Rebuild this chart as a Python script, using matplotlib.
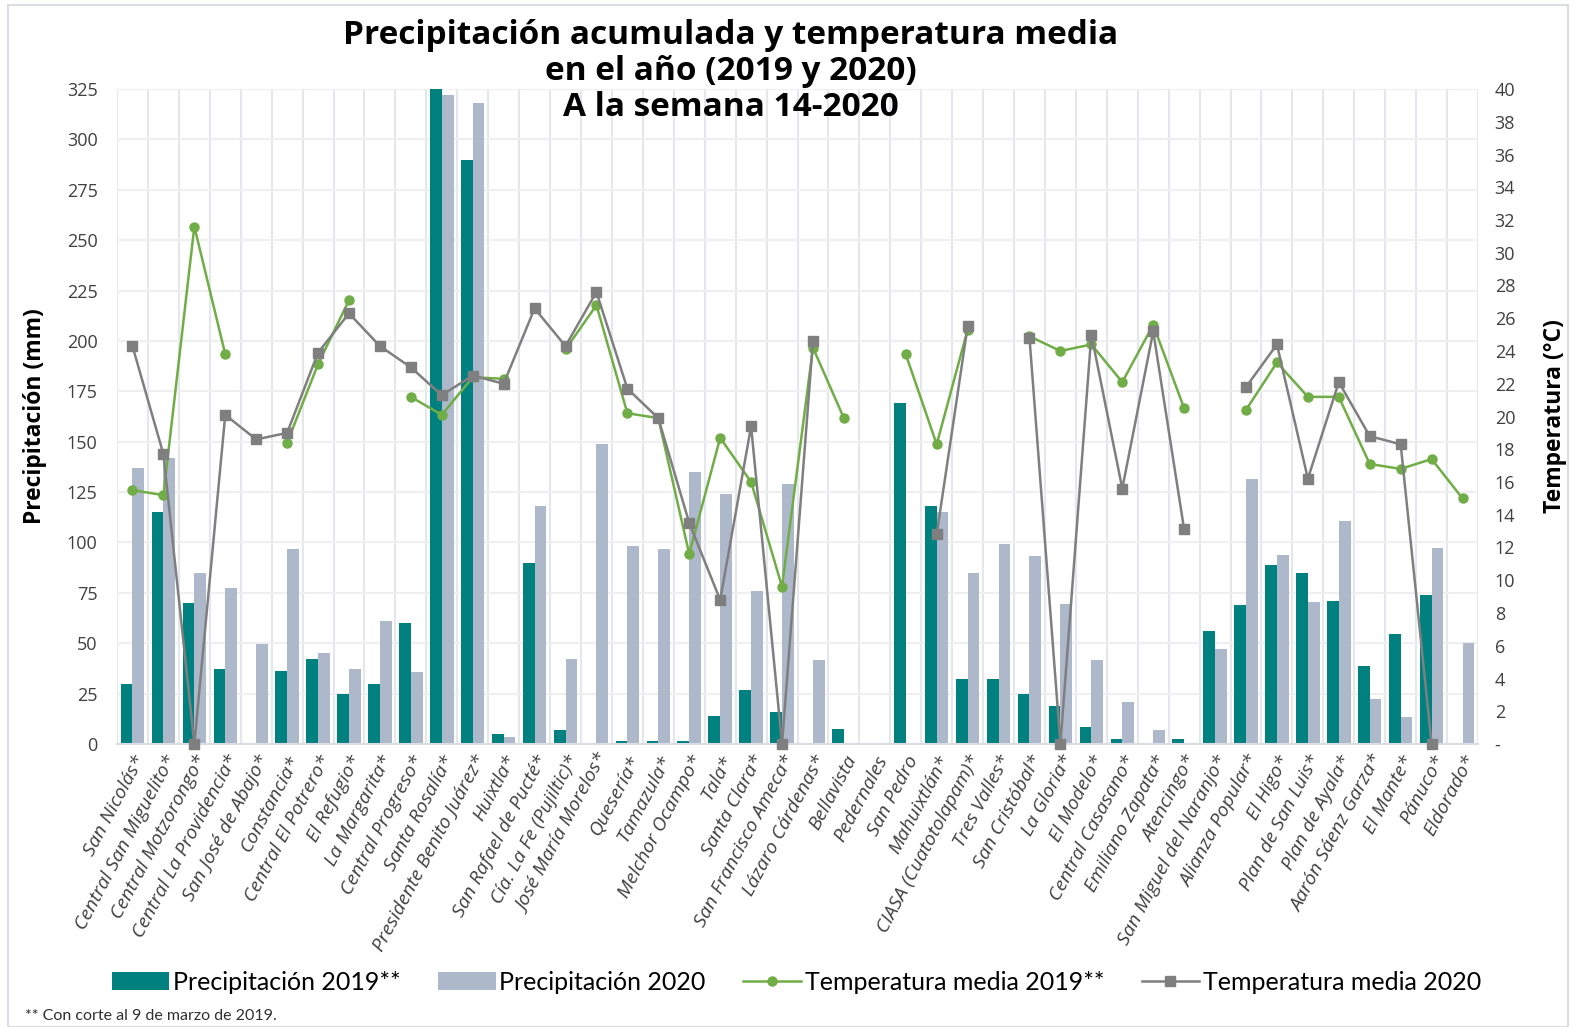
import numpy as np
import matplotlib.pyplot as plt
from matplotlib.patches import Rectangle

# Ingenios / estaciones
categorias = [
    "San Nicolás*", "Central San Miguelito*", "Central Motzorongo*", "Central La Providencia*",
    "San José de Abajo*", "Constancia*", "Central El Potrero*", "El Refugio*", "La Margarita*",
    "Central Progreso*", "Santa Rosalía*", "Presidente Benito Juárez*", "Huixtla*",
    "San Rafael de Pucté*", "Cía. La Fe (Pujiltic)*", "José María Morelos*", "Quesería*",
    "Tamazula*", "Melchor Ocampo*", "Tala*", "Santa Clara*", "San Francisco Ameca*",
    "Lázaro Cárdenas*", "Bellavista", "Pedernales", "San Pedro", "Mahuixtlán*",
    "CIASA (Cuatotolapam)*", "Tres Valles*", "San Cristóbal*", "La Gloria*", "El Modelo*",
    "Central Casasano*", "Emiliano Zapata*", "Atencingo*", "San Miguel del Naranjo*",
    "Alianza Popular*", "El Higo*", "Plan de San Luis*", "Plan de Ayala*",
    "Aarón Sáenz Garza*", "El Mante*", "Pánuco*", "Eldorado*",
]

nan = np.nan

# Precipitación acumulada (mm)
precip_2019 = [30, 115, 70, 37, 0, 36, 42, 25, 30, 60, 340, 290, 5, 90, 7, 0.5, 1.3, 1.3, 1.3,
               14, 27, 16, 0.6, 7.5, 0, 169, 118, 32.5, 32.5, 25, 19, 8.6, 2.4, 0.6, 2.4, 56,
               69, 89, 85, 71, 38.5, 54.5, 74, 0]
precip_2020 = [137, 142, 85, 77.5, 49.5, 97, 45, 37, 61, 35.5, 322, 318, 3.3, 118, 42, 149, 98,
               97, 135, 124, 76, 129, 41.5, 0, 0, 0, 115, 85, 99, 93.5, 69.5, 41.5, 21, 7, 0.5,
               47, 131.5, 94, 70.5, 110.5, 22.5, 13.3, 97.5, 50]

# Temperatura media (°C)
temp_2019 = [15.5, 15.2, 31.6, 23.8, nan, 18.4, 23.2, 27.1, nan, 21.2, 20.1, 22.4, 22.3, nan,
             24.1, 26.8, 20.2, 19.9, 11.6, 18.7, 16.0, 9.6, 24.2, 19.9, nan, 23.8, 18.3, 25.3,
             nan, 24.9, 24.0, 24.4, 22.1, 25.6, 20.5, nan, 20.4, 23.3, 21.2, 21.2, 17.1, 16.8,
             17.4, 15.0]
temp_2020 = [24.3, 17.7, 0, 20.1, 18.6, 19.0, 23.9, 26.3, 24.3, 23.0, 21.3, 22.5, 22.0, 26.6,
             24.3, 27.6, 21.7, 19.9, 13.5, 8.8, 19.4, 0, 24.6, nan, nan, nan, 12.8, 25.5, nan,
             24.8, 0, 25.0, 15.6, 25.2, 13.1, nan, 21.8, 24.4, 16.2, 22.1, 18.8, 18.3, 0, nan]

teal = "#00807F"
azul_gris = "#ADB8CB"
verde = "#70AD47"
gris = "#7F7F7F"
grid_c = "#E4E7EC"
font = ["Open Sans", "DejaVu Sans"]
font_leg = ["Lato", "DejaVu Sans"]

plt.rcParams["font.family"] = font

fig = plt.figure(figsize=(15.71, 10.27), dpi=100)
fig.patches.append(Rectangle((8 / 1571, 0.0), 1 - 8 / 1571 - 0.002, 1 - 5 / 1027,
                             transform=fig.transFigure, fill=False, edgecolor="#DADDE2",
                             linewidth=1.5))

ax = fig.add_axes([117 / 1571, 1 - 744 / 1027, (1478 - 117) / 1571, (744 - 89) / 1027])
ax2 = ax.twinx()

x = np.arange(len(categorias))
w = 0.38
b1 = ax.bar(x - w / 2, precip_2019, w, color=teal, label="Precipitación 2019**", zorder=2)
b2 = ax.bar(x + w / 2, precip_2020, w, color=azul_gris, label="Precipitación 2020", zorder=2)

l1, = ax2.plot(x, temp_2019, color=verde, marker="o", markersize=6.5, linewidth=1.8,
               label="Temperatura media 2019**", clip_on=False, zorder=3)
l2, = ax2.plot(x, temp_2020, color=gris, marker="s", markersize=7, linewidth=1.8,
               label="Temperatura media 2020", clip_on=False, zorder=4)

ax.set_xlim(-0.5, len(categorias) - 0.5)
ax.set_ylim(0, 325)
ax.set_yticks(np.arange(0, 326, 25))
ax2.set_ylim(0, 40)
ax2.set_yticks(np.arange(0, 41, 2))
ax2.set_yticklabels(["-"] + [str(v) for v in range(2, 41, 2)])

# rejilla
ax.set_axisbelow(True)
ax.grid(axis="y", color="#EFEFF1", linewidth=1.5, zorder=0)
for xv in np.arange(-0.5, len(categorias), 1.0):
    ax.axvline(xv, color=grid_c, linewidth=1.5, zorder=0)

for a in (ax, ax2):
    for s in a.spines.values():
        s.set_visible(False)
    a.tick_params(length=0, labelsize=13, colors="#404040")
ax.spines["bottom"].set_visible(True)
ax.spines["bottom"].set_color("#D9DCE2")
ax.spines["bottom"].set_linewidth(1.5)
ax.tick_params(axis="y", pad=14)
ax2.tick_params(axis="y", pad=12)

ax.set_xticks(x)
ax.set_xticklabels(categorias, rotation=62, ha="right", rotation_mode="anchor",
                   fontsize=14, style="italic", color="#404040")
ax.tick_params(axis="x", pad=6)

ax.set_ylabel("Precipitación (mm)", fontsize=16.5, fontweight="bold", labelpad=14)
ax2.set_ylabel("Temperatura (°C)", fontsize=16.5, fontweight="bold", labelpad=20,
               rotation=90)

fig.text(0.465, 1 - 72 / 1027,
         "Precipitación acumulada y temperatura media\nen el año (2019 y 2020)\nA la semana 14-2020",
         ha="center", va="center", fontsize=24, fontweight="bold", linespacing=1.12)

fig.legend(handles=[b1, b2, l1, l2], loc="center", bbox_to_anchor=(0.507, 1 - 982 / 1027),
           ncol=4, frameon=False, prop={"family": font_leg, "size": 18},
           handlelength=2.3, handletextpad=0.15, columnspacing=1.5)

fig.text(25 / 1571, 1 - 1016 / 1027, "** Con corte al 9 de marzo de 2019.",
         fontsize=11.5, family=font_leg, va="center", color="#303030")

fig.savefig("out.png", dpi=100)
